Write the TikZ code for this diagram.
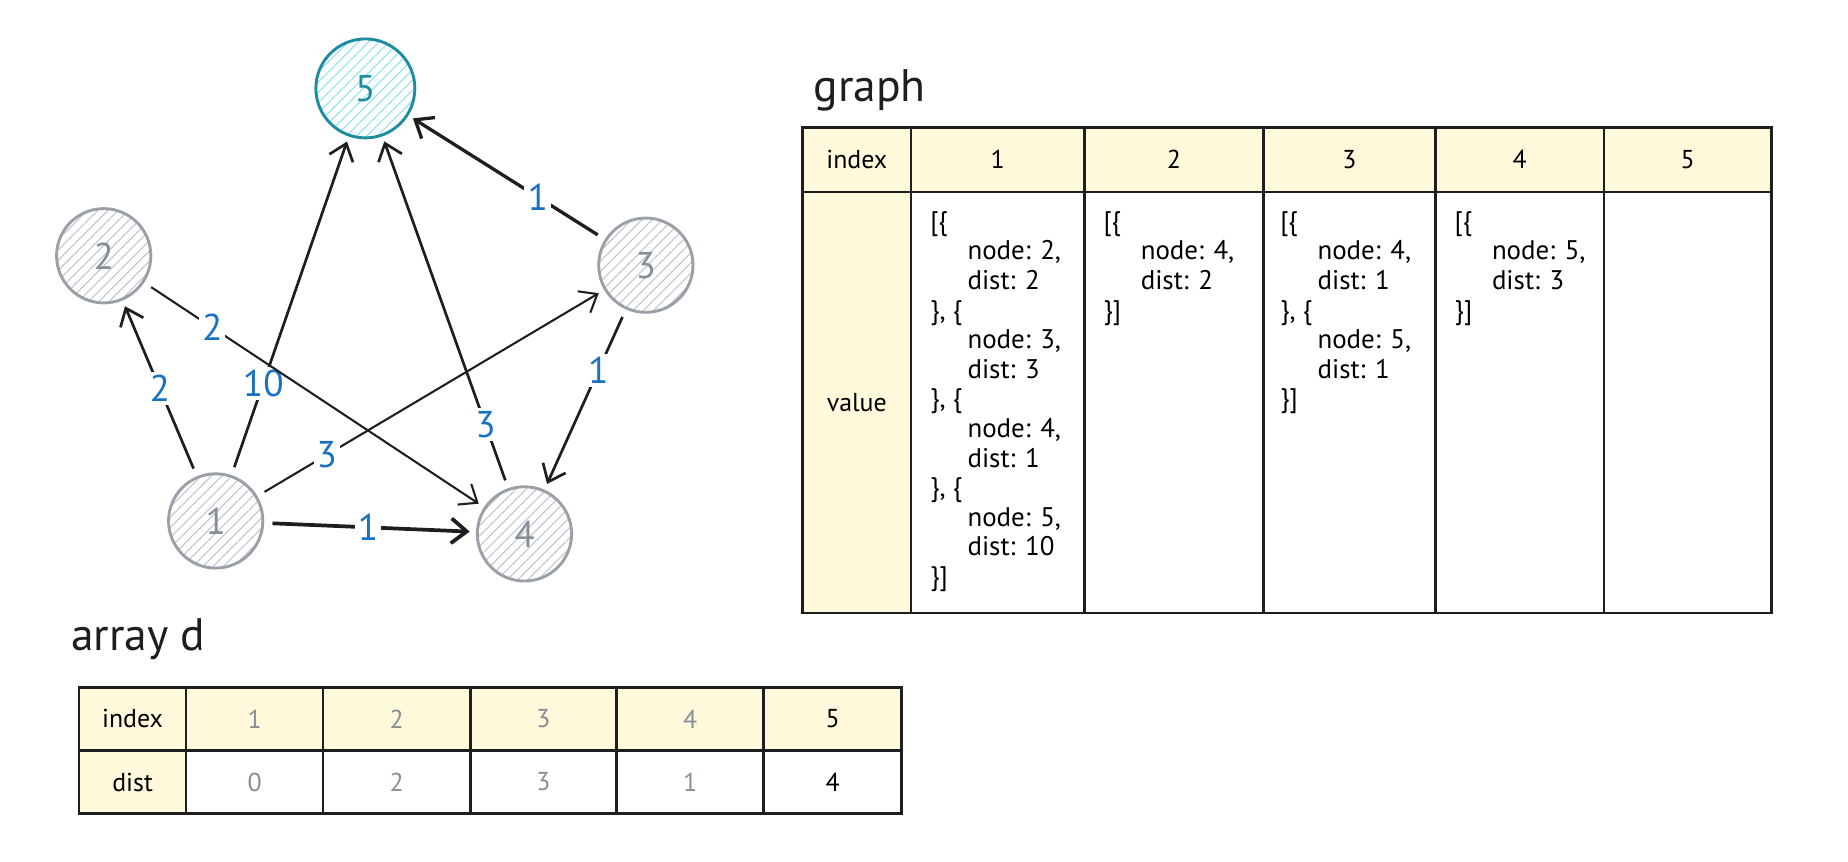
\documentclass[tikz,border=0pt]{standalone}
\usepackage{fontspec}
\setmainfont{PT Sans}
\usetikzlibrary{arrows.meta, patterns.meta, positioning}
\definecolor{Ink}{HTML}{1E1E1E}
\definecolor{NodeGray}{HTML}{9AA0A6}
\definecolor{NodeText}{HTML}{868E96}
\definecolor{HatchGray}{HTML}{BFC5CC}
\definecolor{TealMid}{HTML}{1C8CA0}
\definecolor{HatchCyan}{HTML}{8EE2EE}
\definecolor{CellYellow}{HTML}{FFF9DB}
\definecolor{LabelBlue}{HTML}{1971C2}
\newcommand{\codeind}{\hspace*{18pt}}

\begin{document}
\begin{tikzpicture}[x=0.02cm, y=-0.02cm,
    vertex/.style={circle,draw=NodeGray,line width=1.4pt,minimum size=1.6cm,
                   text=NodeText,font=\fontsize{18}{21}\selectfont,
                   pattern={Lines[angle=45,distance=3.5pt,line width=0.5pt]},
                   pattern color=HatchGray},
    link/.style={-{Straight Barb[length=7.5pt,width=12pt]},Ink,line width=1.3pt,
                 shorten <=4pt,shorten >=3pt},
    wt/.style={fill=white,text=LabelBlue,inner sep=1.5pt,font=\fontsize{18}{21}\selectfont},
    hcell/.style={draw=Ink,line width=1.2pt,fill=CellYellow,minimum height=1.1cm,
                  inner sep=0,font=\fontsize{12.5}{14}\selectfont},
    vcell/.style={draw=Ink,line width=1.2pt,fill=white,inner sep=0,
                  font=\fontsize{12.5}{14}\selectfont},
    code/.style={align=left,inner sep=0,font=\fontsize{13}{14.3}\selectfont},
    title/.style={inner sep=0,font=\fontsize{22}{26}\selectfont,text=Ink}
  ]
    \useasboundingbox (0,0) rectangle (1568,731);

    % graph drawing
    \node[vertex,draw=TealMid,text=TealMid,pattern color=HatchCyan,minimum size=1.68cm] (n5) at (310,75) {5};
    \node[vertex] (n2) at (88,217) {2};
    \node[vertex] (n3) at (548,225) {3};
    \node[vertex] (n1) at (183,442) {1};
    \node[vertex] (n4) at (445,453) {4};
    \draw[link] (n1) -- node[wt,pos=0.5] {2} (n2);
    \draw[link] (n1) -- node[wt,pos=0.27] {10} (n5);
    \draw[link,line width=1pt] (n1) -- node[wt,pos=0.2] {3} (n3);
    \draw[link,line width=1.8pt] (n1) -- node[wt,pos=0.49] {1} (n4);
    \draw[link,line width=1pt] (n2) -- node[wt,pos=0.2] {2} (n4);
    \draw[link] (n4) -- node[wt,pos=0.18] {3} (n5);
    \draw[link,line width=1.6pt] (n3) -- node[wt,pos=0.34] {1} (n5);
    \draw[link] (n3) -- node[wt,pos=0.34] {1} (n4);

    % graph table
    \node[title,anchor=base west] (gtitle) at (690,86) {graph};
    \node[hcell,minimum width=1.84cm] (gidx) at (727,135.5) {index};
    \node[hcell,minimum width=2.94cm] (g1) at (846.5,135.5) {1};
    \node[hcell,minimum width=3.04cm] (g2) at (996,135.5) {2};
    \node[hcell,minimum width=2.92cm] (g3) at (1145,135.5) {3};
    \node[hcell,minimum width=2.86cm] (g4) at (1289.5,135.5) {4};
    \node[hcell,minimum width=2.84cm] (g5) at (1432,135.5) {5};
    \node[hcell,minimum width=1.84cm,minimum height=7.14cm] (gval) at (727,341.5) {value};
    \node[vcell,minimum width=2.94cm,minimum height=7.14cm] (v1) at (846.5,341.5) {};
    \node[vcell,minimum width=3.04cm,minimum height=7.14cm] (v2) at (996,341.5) {};
    \node[vcell,minimum width=2.92cm,minimum height=7.14cm] (v3) at (1145,341.5) {};
    \node[vcell,minimum width=2.86cm,minimum height=7.14cm] (v4) at (1289.5,341.5) {};
    \node[vcell,minimum width=2.84cm,minimum height=7.14cm] (v5) at (1432,341.5) {};
    \node[code,below right=0.34cm and 0.34cm of v1.north west] (c1)
      {[\{\\ \codeind node: 2,\\ \codeind dist: 2\\ \}, \{\\ \codeind node: 3,\\ \codeind dist: 3\\
       \}, \{\\ \codeind node: 4,\\ \codeind dist: 1\\ \}, \{\\ \codeind node: 5,\\ \codeind dist: 10\\ \}]};
    \node[code,below right=0.34cm and 0.34cm of v2.north west] (c2)
      {[\{\\ \codeind node: 4,\\ \codeind dist: 2\\ \}]};
    \node[code,below right=0.34cm and 0.30cm of v3.north west] (c3)
      {[\{\\ \codeind node: 4,\\ \codeind dist: 1\\ \}, \{\\ \codeind node: 5,\\ \codeind dist: 1\\ \}]};
    \node[code,below right=0.34cm and 0.34cm of v4.north west] (c4)
      {[\{\\ \codeind node: 5,\\ \codeind dist: 3\\ \}]};

    % array d
    \node[title,anchor=base west] (dtitle) at (60,552) {array d};
    \node[hcell,minimum width=1.82cm,minimum height=1.07cm] (didx) at (112.5,610) {index};
    \node[hcell,minimum width=2.32cm,minimum height=1.07cm,text=NodeText] (d1) at (216,610) {1};
    \node[hcell,minimum width=2.5cm,minimum height=1.07cm,text=NodeText] (d2) at (336.5,610) {2};
    \node[hcell,minimum width=2.48cm,minimum height=1.07cm,text=NodeText] (d3) at (461,610) {3};
    \node[hcell,minimum width=2.5cm,minimum height=1.07cm,text=NodeText] (d4) at (585.5,610) {4};
    \node[hcell,minimum width=2.34cm,minimum height=1.07cm] (d5) at (706.5,610) {5};
    \node[hcell,minimum width=1.82cm,minimum height=1.07cm] (ddist) at (112.5,663.5) {dist};
    \node[vcell,minimum width=2.32cm,minimum height=1.07cm,text=NodeText] (e1) at (216,663.5) {0};
    \node[vcell,minimum width=2.5cm,minimum height=1.07cm,text=NodeText] (e2) at (336.5,663.5) {2};
    \node[vcell,minimum width=2.48cm,minimum height=1.07cm,text=NodeText] (e3) at (461,663.5) {3};
    \node[vcell,minimum width=2.5cm,minimum height=1.07cm,text=NodeText] (e4) at (585.5,663.5) {1};
    \node[vcell,minimum width=2.34cm,minimum height=1.07cm] (e5) at (706.5,663.5) {4};
\end{tikzpicture}
\end{document}
